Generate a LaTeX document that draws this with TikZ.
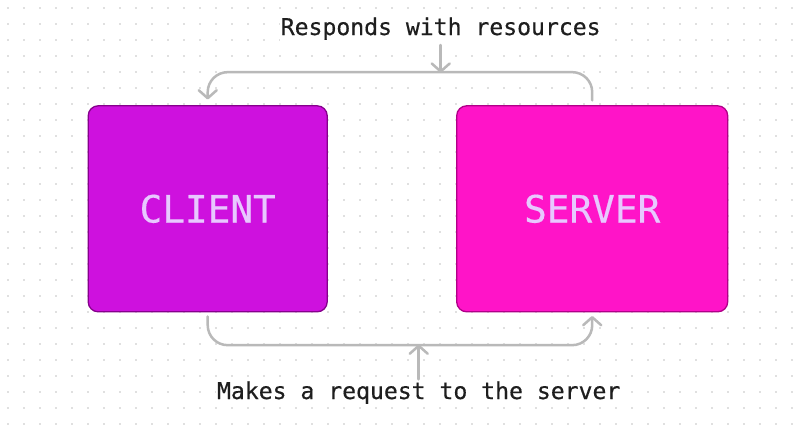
\documentclass[tikz,border=0pt]{standalone}
\usepackage{fontspec}
\setmonofont{DejaVu Sans Mono}
\newfontfamily\lblfont[FakeBold=0.5]{DejaVu Sans Mono}
\newfontfamily\boxfont[FakeBold=0.4]{DejaVu Sans Mono}
\usetikzlibrary{arrows.meta}
\definecolor{clientfill}{RGB}{206,17,222}
\definecolor{clientborder}{RGB}{134,0,140}
\definecolor{serverfill}{RGB}{255,20,200}
\definecolor{serverborder}{RGB}{176,0,136}
\definecolor{boxtext}{RGB}{232,200,255}
\definecolor{conngray}{RGB}{185,185,185}
\definecolor{dotgray}{RGB}{224,224,224}
\definecolor{labeltext}{RGB}{30,30,30}
\tikzset{
  box/.style={rectangle, rounded corners=10pt, line width=1.3pt, text=boxtext,
    font=\boxfont\fontsize{37.7}{40}\selectfont, inner sep=0pt},
  lbl/.style={font=\lblfont\fontsize{23.1}{26}\selectfont, text=labeltext,
    fill=white, inner sep=1pt},
  conn/.style={draw=conngray, line width=2.5pt, line cap=round, rounded corners=20pt,
    -{Straight Barb[length=8pt,width=18pt,round]}},
}
\begin{document}
\begin{tikzpicture}[x=1pt,y=-1pt]
\useasboundingbox[fill=white] (0,0) rectangle (795,424);
% dot grid
\foreach \i in {0,...,49}{
  \foreach \j in {0,...,26}{
    \fill[dotgray] ({7+16*\i},{7+16*\j}) rectangle ++(2,2);
  }
}
% boxes
\node[box, fill=clientfill, draw=clientborder, minimum width=239pt, minimum height=206pt]
  (client) at (207.7,208.8) {\raisebox{-2pt}{CLIENT}};
\node[box, fill=serverfill, draw=serverborder, minimum width=271pt, minimum height=206pt]
  (server) at (592.2,208.8) {\raisebox{-2pt}{SERVER}};
% labels
\node[lbl, anchor=base] (resp) at (440.7,35) {Responds with resources};
\node[lbl, anchor=base] (req) at (418.7,399) {Makes a request to the server};
% connector points
\coordinate (topline) at (440.7,72.7);
\coordinate (botline) at (418.7,344.5);
% top connector: server -> client
\draw[conn] ([yshift=4.7pt]server.north) |- ([yshift=33pt]client.north) -- ([yshift=5.7pt]client.north);
% bottom connector: client -> server
\draw[conn] ([yshift=-4pt]client.south) |- ([yshift=-32.7pt]server.south) -- ([yshift=-3.5pt]server.south);
% small arrows
\draw[conn] ([yshift=-4pt]resp.south) -- (topline);
\draw[conn] ([yshift=1pt]req.north) -- (botline);
\end{tikzpicture}
\end{document}
